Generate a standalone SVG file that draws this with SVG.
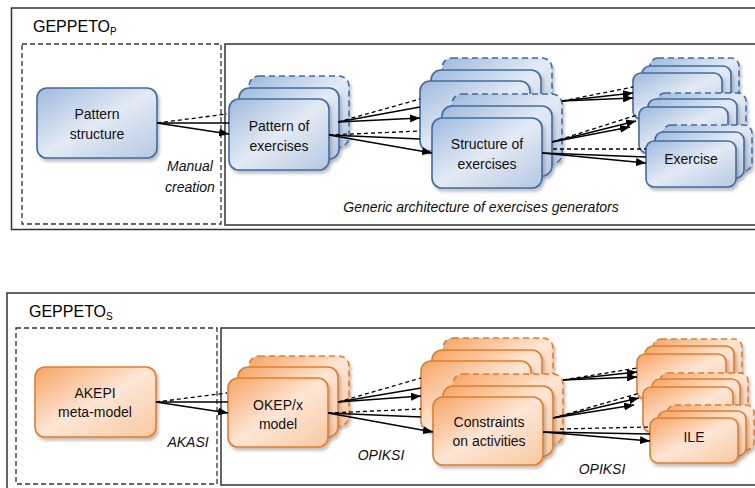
<svg xmlns="http://www.w3.org/2000/svg" width="755" height="488" viewBox="0 0 755 488">
<defs>
<linearGradient id="gb" x1="0" y1="0" x2="1" y2="1">
<stop offset="0" stop-color="#9fb9dc"/>
<stop offset="0.5" stop-color="#e3eaf4"/>
<stop offset="1" stop-color="#b4c8e2"/>
</linearGradient>
<linearGradient id="go" x1="0" y1="0" x2="1" y2="1">
<stop offset="0" stop-color="#f5a465"/>
<stop offset="0.5" stop-color="#fde6d5"/>
<stop offset="1" stop-color="#f8c8a0"/>
</linearGradient>
<filter id="sh" x="-10%" y="-10%" width="130%" height="140%">
<feDropShadow dx="2" dy="3" stdDeviation="1.5" flood-color="#777" flood-opacity="0.45"/>
</filter>
<marker id="ah" markerWidth="11" markerHeight="8" refX="10" refY="4" orient="auto" markerUnits="userSpaceOnUse">
<path d="M0,0 L10,4 L0,8 z" fill="#000"/>
</marker>
<style>
.frame{fill:none;stroke:#333;stroke-width:1.5}
.dframe{fill:none;stroke:#333;stroke-width:1.3;stroke-dasharray:5,3}
.b{fill:url(#gb);stroke:#3d6da3;stroke-width:1.6;filter:url(#sh)}
.o{fill:url(#go);stroke:#e67e22;stroke-width:1.6;filter:url(#sh)}
.d{stroke-dasharray:6,4}
.t{font-family:"Liberation Sans",Arial,sans-serif;font-size:14px;fill:#111;text-anchor:middle}
.it{font-family:"Liberation Sans",Arial,sans-serif;font-size:14px;font-style:italic;fill:#111;text-anchor:middle}
.title{font-family:"Liberation Sans",Arial,sans-serif;font-size:16px;fill:#000}
.sub{font-size:10px}
.c{stroke:#000;stroke-width:1.3;fill:none}
.cd{stroke:#000;stroke-width:1.3;fill:none;stroke-dasharray:4,3}
.ca{stroke:#000;stroke-width:1.3;fill:none;marker-end:url(#ah)}
</style>
</defs>
<rect width="755" height="488" fill="#fff"/>

<!-- Top panel frames -->
<g id="panelP">
<rect class="frame" x="11.5" y="8" width="760" height="221.5"/>
<rect class="dframe" x="22" y="44" width="199" height="180"/>
<rect class="frame" x="225" y="44" width="540" height="181"/>
<text class="title" x="33" y="32">GEPPETO<tspan class="sub" dy="3">P</tspan></text>
<text class="it" x="190" y="171">Manual</text>
<text class="it" x="190" y="192">creation</text>
<text class="it" x="481" y="212">Generic architecture of exercises generators</text>
</g>

<g id="patternStructure">
<rect class="b" x="37" y="88" width="120" height="70" rx="10"/>
<text class="t" x="97" y="119">Pattern</text>
<text class="t" x="97" y="139">structure</text>
</g>

<g id="patternOfExercises">
<rect class="b d" x="249" y="76" width="100" height="71" rx="10"/>
<rect class="b" x="239" y="88" width="100" height="71" rx="10"/>
<rect class="b" x="229" y="99" width="100" height="71" rx="10"/>
<text class="t" x="279" y="131">Pattern of</text>
<text class="t" x="279" y="151">exercises</text>
</g>

<g id="structureOfExercises">
<rect class="b d" x="442" y="58" width="110" height="70" rx="10"/>
<rect class="b" x="431" y="70" width="110" height="70" rx="10"/>
<rect class="b" x="420" y="81" width="110" height="70" rx="10"/>
<rect class="b d" x="452" y="94" width="110" height="70" rx="10"/>
<rect class="b" x="442" y="106" width="110" height="70" rx="10"/>
<rect class="b" x="432" y="118" width="110" height="70" rx="10"/>
<text class="t" x="487" y="149">Structure of</text>
<text class="t" x="487" y="169">exercises</text>
</g>

<g id="exercise">
<rect class="b d" x="650" y="58" width="89" height="46" rx="8"/>
<rect class="b" x="642" y="66" width="89" height="46" rx="8"/>
<rect class="b" x="633" y="73" width="89" height="46" rx="8"/>
<rect class="b d" x="657" y="93" width="89" height="46" rx="8"/>
<rect class="b" x="648" y="99" width="89" height="46" rx="8"/>
<rect class="b" x="639" y="107" width="89" height="46" rx="8"/>
<rect class="b d" x="663" y="125" width="89" height="46" rx="8"/>
<rect class="b" x="655" y="132" width="89" height="46" rx="8"/>
<rect class="b" x="646" y="141" width="90" height="46" rx="8"/>
<text class="t" x="691" y="164">Exercise</text>
</g>

<!-- Bottom panel frames -->
<g id="panelS">
<rect class="frame" x="7" y="293" width="765" height="210"/>
<rect class="dframe" x="16" y="328" width="201" height="156"/>
<rect class="frame" x="221" y="328" width="545" height="157"/>
<text class="title" x="29" y="317">GEPPETO<tspan class="sub" dy="3">S</tspan></text>
<text class="it" x="188" y="447">AKASI</text>
<text class="it" x="381" y="460">OPIKSI</text>
<text class="it" x="602" y="474">OPIKSI</text>
</g>

<g id="akepi">
<rect class="o" x="35" y="367" width="121" height="70" rx="10"/>
<text class="t" x="95" y="398">AKEPI</text>
<text class="t" x="95" y="417">meta-model</text>
</g>

<g id="okep">
<rect class="o d" x="249" y="356" width="100" height="70" rx="10"/>
<rect class="o" x="238" y="367" width="100" height="70" rx="10"/>
<rect class="o" x="228" y="378" width="100" height="69" rx="10"/>
<text class="t" x="278" y="410">OKEP/x</text>
<text class="t" x="278" y="429">model</text>
</g>

<g id="constraints">
<rect class="o d" x="443" y="338" width="110" height="70" rx="10"/>
<rect class="o" x="432" y="350" width="110" height="70" rx="10"/>
<rect class="o" x="421" y="361" width="110" height="70" rx="10"/>
<rect class="o d" x="453" y="374" width="110" height="70" rx="10"/>
<rect class="o" x="443" y="386" width="110" height="70" rx="10"/>
<rect class="o" x="433" y="397" width="110" height="68" rx="10"/>
<text class="t" x="489" y="427">Constraints</text>
<text class="t" x="489" y="446">on activities</text>
</g>

<g id="ile">
<rect class="o d" x="653" y="339" width="89" height="45" rx="8"/>
<rect class="o" x="645" y="346" width="89" height="45" rx="8"/>
<rect class="o" x="637" y="354" width="89" height="45" rx="8"/>
<rect class="o d" x="660" y="373" width="88" height="45" rx="8"/>
<rect class="o" x="652" y="379" width="88" height="45" rx="8"/>
<rect class="o" x="643" y="387" width="90" height="45" rx="8"/>
<rect class="o d" x="667" y="405" width="87" height="45" rx="8"/>
<rect class="o" x="658" y="411" width="88" height="45" rx="8"/>
<rect class="o" x="650" y="418" width="88" height="45" rx="8"/>
<text class="t" x="694" y="442">ILE</text>
</g>

<g id="connectors">
<!-- top -->
<line class="cd" x1="157" y1="123" x2="227" y2="114"/>
<line class="c" x1="157" y1="123" x2="229" y2="123"/>
<line class="ca" x1="157" y1="123" x2="229" y2="134"/>

<line class="cd" x1="338" y1="122" x2="420" y2="99"/>
<line class="c" x1="338" y1="122" x2="420" y2="107"/>
<line class="ca" x1="338" y1="122" x2="420" y2="118"/>
<line class="cd" x1="329" y1="135" x2="420" y2="131"/>
<line class="c" x1="329" y1="135" x2="420" y2="139"/>
<line class="ca" x1="329" y1="135" x2="432" y2="153"/>

<line class="cd" x1="562" y1="101" x2="633" y2="87"/>
<line class="ca" x1="562" y1="101" x2="633" y2="93"/>
<line class="ca" x1="562" y1="101" x2="633" y2="98"/>
<line class="cd" x1="552" y1="142" x2="637" y2="115"/>
<line class="ca" x1="552" y1="142" x2="636" y2="121"/>
<line class="ca" x1="552" y1="142" x2="630" y2="127"/>
<line class="cd" x1="553" y1="149" x2="646" y2="149"/>
<line class="c" x1="542" y1="153" x2="646" y2="157"/>
<line class="ca" x1="542" y1="153" x2="646" y2="163"/>

<!-- bottom -->
<line class="cd" x1="156" y1="402" x2="227" y2="393"/>
<line class="c" x1="156" y1="402" x2="228" y2="402"/>
<line class="ca" x1="156" y1="402" x2="228" y2="413"/>

<line class="cd" x1="338" y1="402" x2="421" y2="378"/>
<line class="c" x1="338" y1="402" x2="421" y2="388"/>
<line class="ca" x1="338" y1="402" x2="421" y2="396"/>
<line class="cd" x1="328" y1="413" x2="421" y2="409"/>
<line class="c" x1="328" y1="413" x2="421" y2="417"/>
<line class="ca" x1="328" y1="413" x2="433" y2="432"/>

<line class="cd" x1="563" y1="380" x2="637" y2="368"/>
<line class="ca" x1="563" y1="380" x2="637" y2="372"/>
<line class="ca" x1="563" y1="380" x2="637" y2="377"/>
<line class="cd" x1="553" y1="418" x2="640" y2="393"/>
<line class="ca" x1="553" y1="418" x2="639" y2="398"/>
<line class="ca" x1="553" y1="418" x2="634" y2="405"/>
<line class="cd" x1="560" y1="429" x2="650" y2="427"/>
<line class="c" x1="543" y1="432" x2="650" y2="434"/>
<line class="ca" x1="543" y1="432" x2="650" y2="441"/>
</g>
</svg>
